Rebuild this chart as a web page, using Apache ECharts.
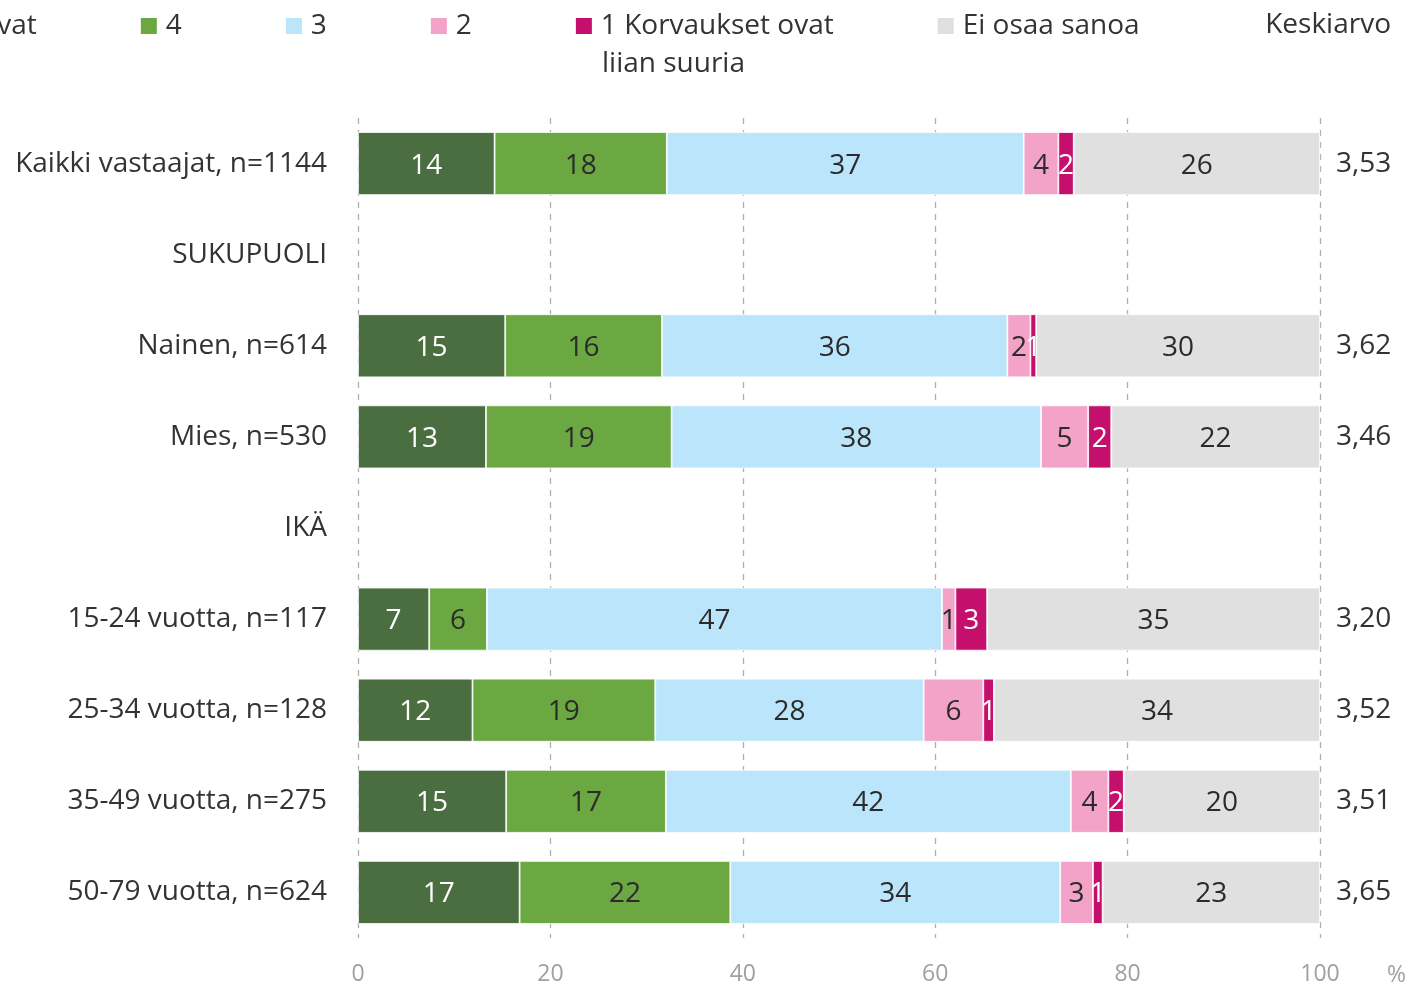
<!DOCTYPE html>
<html lang="fi">
<head>
    <meta charset="UTF-8">
    <title>Korvaukset</title>
    <script src="https://cdn.jsdelivr.net/npm/echarts@6/dist/echarts.min.js"></script>
    <style>
        html, body { margin: 0; padding: 0; background: #fff; }
        #chart { width: 1422px; height: 995px; }
    </style>
</head>
<body>
    <div id="chart"></div>
    <script>
        // rivit ylhäältä alas (otsikkorivit ilman arvoja)
        const categories = ['Kaikki vastaajat, n=1144', 'SUKUPUOLI', 'Nainen, n=614', 'Mies, n=530', 'IKÄ',
            '15-24 vuotta, n=117', '25-34 vuotta, n=128', '35-49 vuotta, n=275', '50-79 vuotta, n=624'];
        const seriesNames = ['5 Korvaukset ovat liian pieniä', '4', '3', '2', '1 Korvaukset ovat liian suuria', 'Ei osaa sanoa'];
        const val5 = [14.2, null, 15.3, 13.3, null, 7.4, 11.9, 15.4, 16.8];
        const val4 = [17.9, null, 16.3, 19.3, null, 6.0, 19.0, 16.6, 21.9];
        const val3 = [37.1, null, 35.9, 38.4, null, 47.3, 27.9, 42.1, 34.3];
        const val2 = [3.6, null, 2.4, 4.9, null, 1.4, 6.2, 3.9, 3.4];
        const val1 = [1.6, null, 0.6, 2.4, null, 3.3, 1.1, 1.6, 1.0];
        const valEos = [25.6, null, 29.5, 21.7, null, 34.6, 33.9, 20.4, 22.6];
        const keskiarvo = [3.53, null, 3.62, 3.46, null, 3.20, 3.52, 3.51, 3.65];
        const xTicks = [0, 20, 40, 60, 80, 100];

        const colors = ['#4A6E3F', '#6BA841', '#BAE5FA', '#F4A3C8', '#C40F6D', '#E0E0E0'];
        const labelColors = ['#fff', '#2b2b2b', '#2b2b2b', '#2b2b2b', '#fff', '#2b2b2b'];
        const FONT = 'Open Sans';
        const FS = 28;

        const allValues = [val5, val4, val3, val2, val1, valEos];

        const series = allValues.map((vals, i) => ({
            name: seriesNames[i],
            type: 'bar',
            stack: 'total',
            barWidth: 63,
            data: vals,
            itemStyle: { color: colors[i], borderColor: '#fff', borderWidth: 0.8 },
            label: {
                show: true,
                position: 'inside',
                color: labelColors[i],
                fontFamily: FONT,
                fontSize: FS,
                offset: [0, 2],
                formatter: p => (p.value == null ? '' : Math.round(p.value))
            },
            emphasis: { disabled: true }
        }));

        const chart = echarts.init(document.getElementById('chart'));
        chart.setOption({
            animation: false,
            textStyle: { fontFamily: FONT },
            legend: {
                left: -228,
                top: 7,
                itemWidth: 18,
                itemHeight: 18,
                itemGap: 102,
                icon: 'rect',
                data: seriesNames,
                selectedMode: false,
                textStyle: { fontFamily: FONT, fontSize: FS, color: '#333', padding: [0, 0, 0, 3] },
                formatter: name => name.replace(' liian pieniä', '').replace(' liian suuria', '')
            },
            grid: { left: 358, right: 102, top: 118, bottom: 57 },
            xAxis: {
                type: 'value',
                min: 0,
                max: 100,
                interval: 20,
                axisLine: { show: false },
                axisTick: { show: false },
                splitLine: { show: true, lineStyle: { color: '#B0B0B0', type: [6, 6], width: 1.3 } },
                axisLabel: {
                    color: '#A0A0A0',
                    fontFamily: FONT,
                    fontSize: 23,
                    margin: 25,
                    formatter: v => (xTicks.includes(v) ? String(v) : '')
                }
            },
            yAxis: [{
                type: 'category',
                inverse: true,
                data: categories,
                axisLine: { show: false },
                axisTick: { show: false },
                axisLabel: { color: '#333', fontFamily: FONT, fontSize: FS, margin: 31, padding: [8, 0, 0, 0] }
            }, {
                type: 'category',
                inverse: true,
                position: 'right',
                data: keskiarvo.map(v => (v == null ? '' : v.toFixed(2).replace('.', ','))),
                axisLine: { show: false },
                axisTick: { show: false },
                axisLabel: { color: '#333', fontFamily: FONT, fontSize: FS, margin: 16, padding: [8, 0, 0, 0] }
            }],
            graphic: [{
                type: 'text',
                left: 602,
                top: 50,
                style: { text: 'liian suuria', font: FS + 'px "' + FONT + '"', fill: '#333' }
            }, {
                type: 'text',
                right: 31,
                top: 11,
                style: { text: 'Keskiarvo', font: FS + 'px "' + FONT + '"', fill: '#333' }
            }, {
                type: 'text',
                left: 1387,
                top: 964,
                style: { text: '%', font: '23px "' + FONT + '"', fill: '#A0A0A0' }
            }],
            series: series
        });
    </script>
</body>
</html>
